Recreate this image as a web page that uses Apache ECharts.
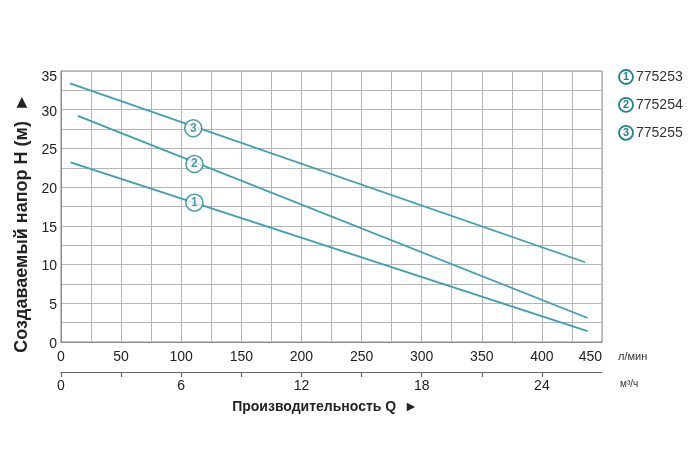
<!DOCTYPE html>
<html><head><meta charset="utf-8">
<script src="https://cdn.jsdelivr.net/npm/echarts@6/dist/echarts.min.js"></script>
<style>html,body{margin:0;padding:0;background:#fff}#c{width:700px;height:476px}</style>
</head><body><div id="c"></div>
<script>
// Data (Q in л/мин, H in м)
const seriesNames = ['775253', '775254', '775255'];
const curve1 = [[8, 23.2], [438, 1.4]];
const curve2 = [[14, 29.2], [438, 3.1]];
const curve3 = [[7.5, 33.4], [436, 10.3]];
const markerQ = [111, 111, 110];
const markerH = [18.0, 23.0, 27.6];
const markerLabels = ['1', '2', '3'];
const flowTicks = [0, 50, 100, 150, 200, 250, 300, 350, 400, 450];
const m3Ticks = [0, 6, 12, 18, 24];
const headTicks = [0, 5, 10, 15, 20, 25, 30, 35];

const LINE = '#3c9fb3';
const RING = '#21838f';
const FONT = '"Liberation Sans", Arial, sans-serif';

const chart = echarts.init(document.getElementById('c'), null, {renderer: 'canvas'});
const curves = [curve1, curve2, curve3];
const series = curves.map((d, i) => ({
  name: seriesNames[i], type: 'line', data: d, xAxisIndex: 0,
  symbol: 'none', lineStyle: {color: LINE, width: 1.8}, itemStyle: {color: LINE},
  z: 2, silent: true
}));
series.push({
  name: 'markers', type: 'scatter', xAxisIndex: 0,
  data: markerQ.map((q, i) => ({value: [q, markerH[i]], label: {formatter: markerLabels[i]}})),
  symbol: 'circle', symbolSize: 17,
  itemStyle: {color: '#fff', borderColor: RING, borderWidth: 1.5},
  label: {show: true, position: 'inside', color: RING, fontSize: 12, fontWeight: 'bold', fontFamily: FONT},
  z: 5, silent: true
});

chart.setOption({
  animation: false,
  textStyle: {fontFamily: FONT},
  grid: {left: 61, right: 98, top: 71, bottom: 134, show: true, borderColor: '#8a8a8a', borderWidth: 1},
  legend: {
    data: seriesNames, orient: 'vertical', left: 609, top: 64, itemGap: 12,
    icon: 'none', itemWidth: 0, itemHeight: 16,
    formatter: name => '{n|' + (seriesNames.indexOf(name) + 1) + '}{t|' + name + '}',
    textStyle: {
      rich: {
        n: {width: 12, height: 12, padding: [1, 1, 1, 1], align: 'center', verticalAlign: 'middle', borderRadius: 9,
            borderColor: RING, borderWidth: 1.8, color: RING, fontWeight: 'bold', fontSize: 11, fontFamily: FONT, lineHeight: 12},
        t: {fontSize: 14, color: '#333', padding: [0, 0, 0, 3], fontFamily: FONT, lineHeight: 16}
      }
    }
  },
  xAxis: [{
    type: 'value', min: 0, max: 450, interval: 25, position: 'bottom',
    axisLine: {show: true, lineStyle: {color: '#8a8a8a'}},
    axisTick: {show: false},
    splitLine: {show: true, lineStyle: {color: '#b5b5b5', width: 1}},
    axisLabel: {
      interval: 0, margin: 8, color: '#222', fontSize: 14, fontFamily: FONT, alignMaxLabel: 'right',
      formatter: v => flowTicks.indexOf(v) >= 0 ? String(v) : ''
    }
  }, {
    type: 'value', min: 0, max: 27, interval: 3, position: 'bottom', offset: 30,
    axisLine: {show: true, lineStyle: {color: '#666', width: 1.2}},
    axisTick: {show: true, length: 5, lineStyle: {color: '#666', width: 1.2}},
    splitLine: {show: false},
    axisLabel: {
      margin: 7, color: '#222', fontSize: 14, fontFamily: FONT, showMaxLabel: false,
      formatter: v => m3Ticks.indexOf(v) >= 0 ? String(v) : ''
    }
  }],
  yAxis: {
    type: 'value', min: 0, max: 35, interval: 2.5,
    axisLine: {show: true, lineStyle: {color: '#8a8a8a'}},
    axisTick: {show: false},
    splitLine: {show: true, lineStyle: {color: '#b5b5b5', width: 1}},
    axisLabel: {
      margin: 4, color: '#222', fontSize: 14, fontFamily: FONT,
      formatter: v => headTicks.indexOf(v) < 0 ? '' : (v === 35 ? '{top|35}' : '{n|' + v + '}'),
      rich: {
        top: {fontSize: 14, color: '#222', padding: [12, 0, 0, 0], fontFamily: FONT},
        n: {fontSize: 14, color: '#222', padding: [4, 0, 0, 0], fontFamily: FONT}
      }
    }
  },
  graphic: [
    {type: 'text', left: 618, top: 351, style: {text: 'л/мин', fontSize: 11, fill: '#333', fontFamily: FONT}},
    {type: 'text', left: 620, top: 379, style: {text: 'м³/ч', fontSize: 10, fill: '#333', fontFamily: FONT}},
    {type: 'text', x: 325, y: 407, style: {text: 'Производительность Q  ►', fontSize: 14, fontWeight: 'bold',
      fill: '#222', fontFamily: FONT, align: 'center', verticalAlign: 'middle'}},
    {type: 'text', x: 22, y: 223, rotation: Math.PI / 2, style: {text: 'Создаваемый напор Н (м)  ►', fontSize: 18,
      fontWeight: 'bold', fill: '#222', fontFamily: FONT, align: 'center', verticalAlign: 'middle'}}
  ],
  series: series
});
</script></body></html>
